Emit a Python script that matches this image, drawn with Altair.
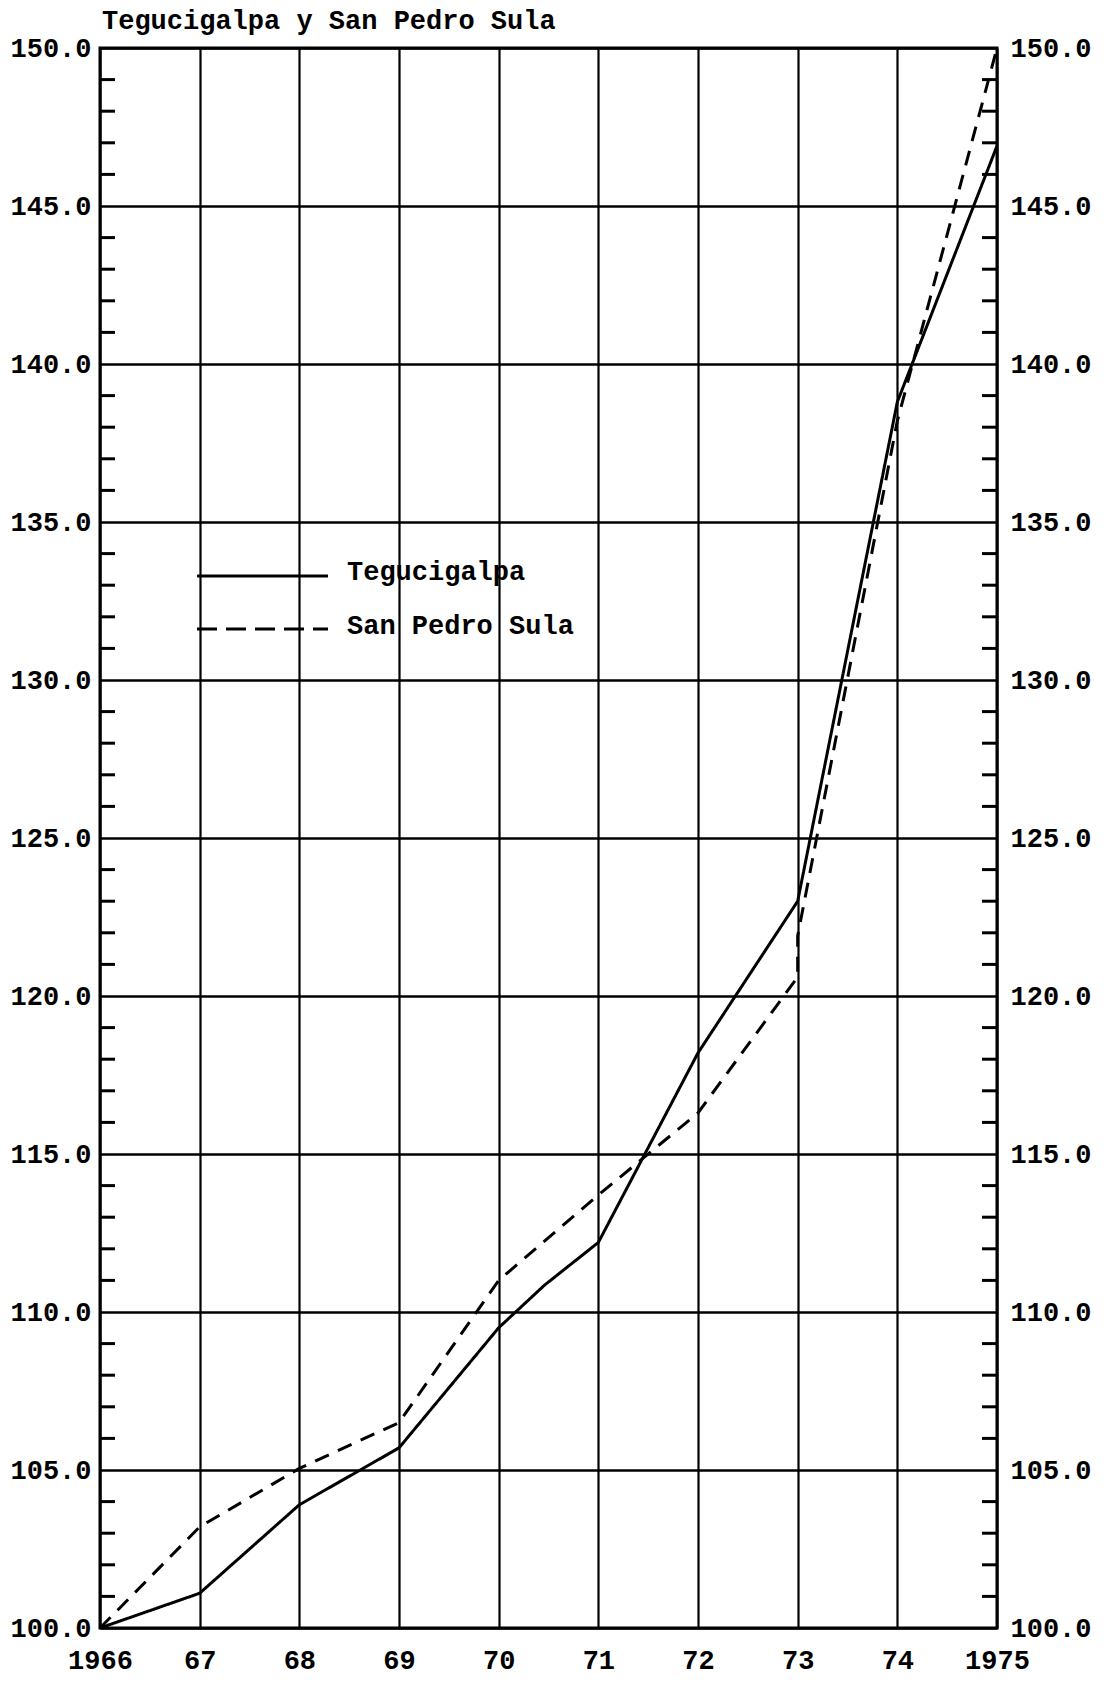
import altair as alt
import pandas as pd

# ---------------- data ----------------
teg_years = [1966, 1967, 1968, 1969, 1970, 1970.46, 1971, 1972, 1973, 1974, 1975]
teg_values = [100.0, 101.1, 103.9, 105.7, 109.5, 110.85, 112.2, 118.2, 123.0, 138.8, 146.9]

spd_years = [1966, 1967, 1968, 1969, 1970, 1971, 1972, 1973, 1973, 1974, 1975]
spd_values = [100.0, 103.2, 105.05, 106.5, 111.0, 113.7, 116.3, 120.6, 121.9, 138.2, 150.0]

series_names = ["Tegucigalpa", "San Pedro Sula"]
title_text = "Tegucigalpa y San Pedro Sula"

x_ticks = [1966, 1967, 1968, 1969, 1970, 1971, 1972, 1973, 1974, 1975]
x_labels = ["1966", "67", "68", "69", "70", "71", "72", "73", "74", "1975"]
y_major = [100, 105, 110, 115, 120, 125, 130, 135, 140, 145, 150]
y_minor = [v for v in range(100, 151) if v % 5 != 0]

# ---------------- layout ----------------
W, H = 897, 1580
FONT = "Liberation Mono"
FS = 27
INK = "#000000"
LW = 3

rows = []
for i, (x, v) in enumerate(zip(teg_years, teg_values)):
    rows.append({"year": x, "value": v, "series": series_names[0], "order": i})
for i, (x, v) in enumerate(zip(spd_years, spd_values)):
    rows.append({"year": x, "value": v, "series": series_names[1], "order": i})
df = pd.DataFrame(rows)

df_minor = pd.DataFrame({"value": y_minor})
df_title = pd.DataFrame({"t": [title_text]})
df_leg1 = pd.DataFrame({"t": [series_names[0]]})
df_leg2 = pd.DataFrame({"t": [series_names[1]]})

x_scale = alt.Scale(domain=[1966, 1975], nice=False, zero=False)
y_scale = alt.Scale(domain=[100, 150], nice=False, zero=False)

label_expr = "[" + ",".join("'%s'" % l for l in x_labels) + "][round(datum.value) - %d]" % x_ticks[0]

x_axis = alt.Axis(
    values=x_ticks, labelExpr=label_expr, grid=True, gridColor=INK, gridWidth=2.2,
    gridOpacity=1, domain=False, ticks=False, labelFont=FONT, labelFontSize=FS,
    labelFontWeight="bold", labelColor=INK, labelPadding=19, labelFlush=False,
    labelOverlap=False, title=None,
)
y_axis_left = alt.Axis(
    values=y_major, format=".1f", grid=True, gridColor=INK, gridWidth=2.6,
    gridOpacity=1, domain=False, ticks=False, labelFont=FONT, labelFontSize=FS,
    labelFontWeight="bold", labelColor=INK, labelPadding=9, labelOverlap=False,
    title=None, orient="left",
)
y_axis_right = alt.Axis(
    values=y_major, format=".1f", grid=False, domain=False, ticks=False,
    labelFont=FONT, labelFontSize=FS, labelFontWeight="bold", labelColor=INK,
    labelPadding=13, labelOverlap=False, title=None, orient="right",
)

lines = alt.Chart(df).mark_line(color=INK, strokeWidth=LW).encode(
    x=alt.X("year:Q", scale=x_scale, axis=x_axis),
    y=alt.Y("value:Q", scale=y_scale, axis=y_axis_left),
    strokeDash=alt.StrokeDash(
        "series:N",
        scale=alt.Scale(domain=series_names, range=[[1, 0], [15, 10]]),
        legend=None,
    ),
    order="order:Q",
)

minor_left = alt.Chart(df_minor).mark_rule(color=INK, strokeWidth=3).encode(
    y=alt.Y("value:Q", scale=y_scale, axis=None),
    x=alt.value(0),
    x2=alt.value(15),
)

minor_right = alt.Chart(df_minor).mark_rule(color=INK, strokeWidth=3).encode(
    y=alt.Y("value:Q", scale=y_scale, axis=y_axis_right),
    x=alt.value(W - 15),
    x2=alt.value(W),
)

text_style = dict(align="left", baseline="middle", font=FONT, fontSize=FS,
                  fontWeight="bold", color=INK)

title = alt.Chart(df_title).mark_text(**text_style).encode(
    text="t:N", x=alt.value(2), y=alt.value(-27)
)

leg_solid = alt.Chart(df_title).mark_rule(color=INK, strokeWidth=LW).encode(
    x=alt.value(97), x2=alt.value(228), y=alt.value(528)
)
leg_dash = alt.Chart(df_title).mark_rule(color=INK, strokeWidth=LW, strokeDash=[20, 9]).encode(
    x=alt.value(97), x2=alt.value(228), y=alt.value(581)
)
leg_text1 = alt.Chart(df_leg1).mark_text(**text_style).encode(
    text="t:N", x=alt.value(247), y=alt.value(524)
)
leg_text2 = alt.Chart(df_leg2).mark_text(**text_style).encode(
    text="t:N", x=alt.value(247), y=alt.value(578)
)

chart = (
    alt.layer(lines, minor_left, minor_right, title, leg_solid, leg_dash, leg_text1, leg_text2)
    .resolve_scale(y="independent")
    .resolve_axis(y="independent")
    .properties(
        width=W, height=H,
        autosize=alt.AutoSizeParams(type="none"),
        padding={"left": 92, "top": 40, "right": 106, "bottom": 48},
        background="white",
    )
    .configure_view(stroke=INK, strokeWidth=3)
)

chart.save("out.html", embed_options={"renderer": "svg", "actions": False})
